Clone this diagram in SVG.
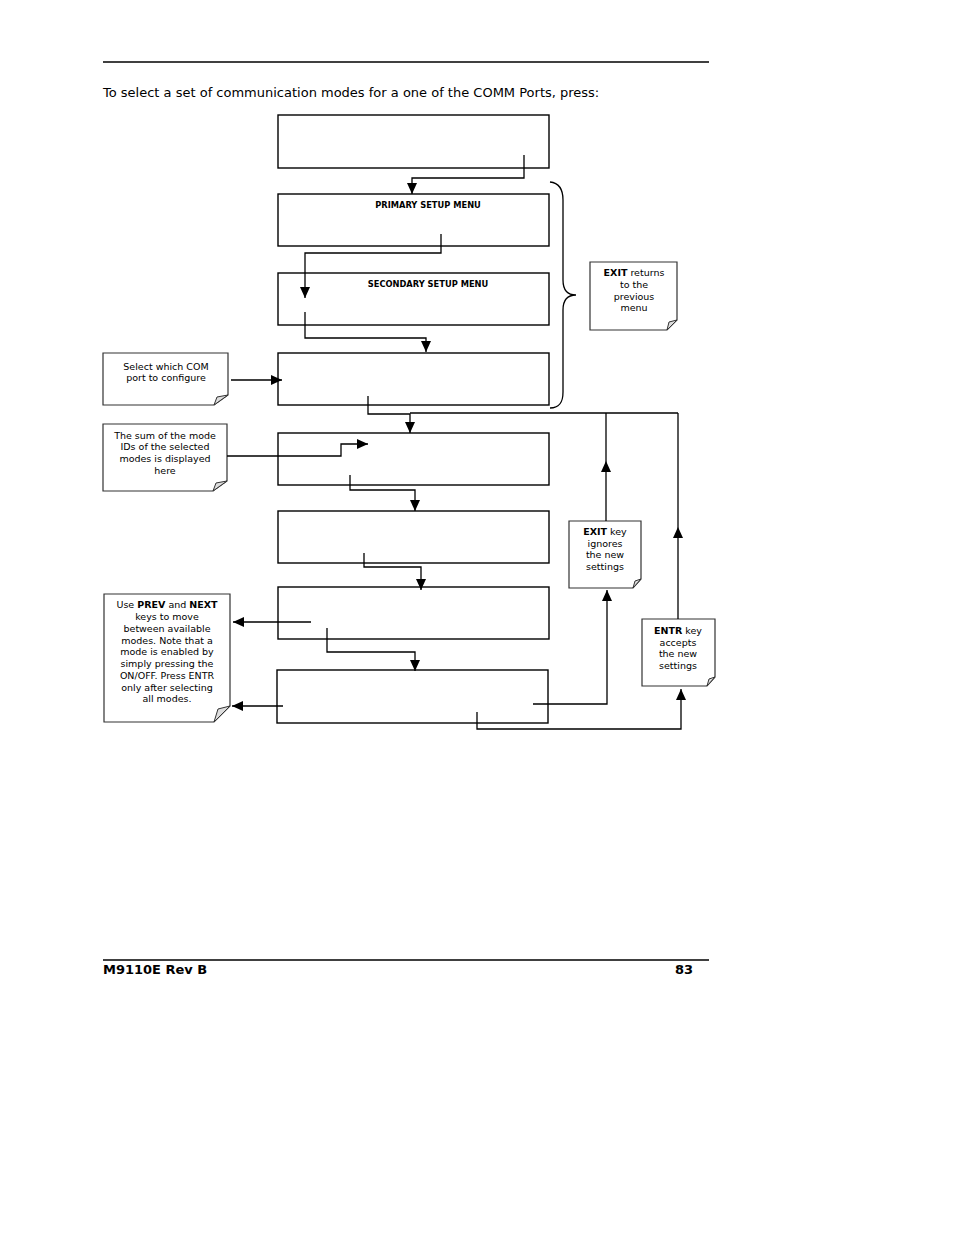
<svg xmlns="http://www.w3.org/2000/svg" width="954" height="1235" viewBox="0 0 954 1235">
<defs>
<marker id="ah" markerUnits="userSpaceOnUse" markerWidth="12" markerHeight="10" refX="11" refY="5" orient="auto">
<path d="M0,0 L11,5 L0,10 Z" fill="#000"/>
</marker>
</defs>
<style>
.box{fill:#fff;stroke:#000;stroke-width:1.4}
.note{fill:#fff;stroke:#333;stroke-width:1.2}
.fold{fill:#ddd;stroke:#333;stroke-width:1}
.c{fill:none;stroke:#000;stroke-width:1.3}
.t{font-family:"DejaVu Sans",Verdana,sans-serif;fill:#000}
.nt{font-family:"DejaVu Sans",Verdana,sans-serif;font-size:9.5px;text-anchor:middle;fill:#000}
.bt{font-family:"DejaVu Sans",Verdana,sans-serif;font-size:8.3px;font-weight:bold;text-anchor:middle;fill:#000}
.hr{stroke:#000;stroke-width:1.3}
</style>
<rect width="954" height="1235" fill="#fff"/>
<line class="hr" x1="103" y1="62" x2="709" y2="62"/>
<text class="t" x="103" y="97" font-size="13">To select a set of communication modes for a one of the COMM Ports, press:</text>

<g id="box1"><rect class="box" x="278" y="115" width="271" height="53"/></g>
<g id="box2"><rect class="box" x="278" y="194" width="271" height="52"/><text class="bt" x="428" y="208">PRIMARY SETUP MENU</text></g>
<g id="box3"><rect class="box" x="278" y="273" width="271" height="52"/><text class="bt" x="428" y="287">SECONDARY SETUP MENU</text></g>
<g id="box4"><rect class="box" x="278" y="353" width="271" height="52"/></g>
<g id="box5"><rect class="box" x="278" y="433" width="271" height="52"/></g>
<g id="box6"><rect class="box" x="278" y="511" width="271" height="52"/></g>
<g id="box7"><rect class="box" x="278" y="587" width="271" height="52"/></g>
<g id="box8"><rect class="box" x="277" y="670" width="271" height="53"/></g>

<g id="brace"><path class="c" d="M550,182 C560,183 563,190 563,200 L563,280 C563,290 567,295 576,295 C567,295 563,300 563,310 L563,392 C563,402 560,408 550,408" stroke="#222"/></g>

<g id="note-exit-returns">
<path class="note" d="M590,262 L677,262 L677,320 L667,330 L590,330 Z"/>
<path class="fold" d="M677,320 L667,330 L669,322 Z"/>
<text class="nt"><tspan x="634" y="276"><tspan font-weight="bold">EXIT</tspan> returns</tspan><tspan x="634" y="288">to the</tspan><tspan x="634" y="300">previous</tspan><tspan x="634" y="311">menu</tspan></text>
</g>
<g id="note-com">
<path class="note" d="M103,353 L228,353 L228,395 L214,405 L103,405 Z"/>
<path class="fold" d="M228,395 L214,405 L217,397 Z"/>
<text class="nt"><tspan x="166" y="370">Select which COM</tspan><tspan x="166" y="381">port to configure</tspan></text>
</g>
<g id="note-sum">
<path class="note" d="M103,424 L227,424 L227,481 L213,491 L103,491 Z"/>
<path class="fold" d="M227,481 L213,491 L216,483 Z"/>
<text class="nt"><tspan x="165" y="439">The sum of the mode</tspan><tspan x="165" y="450">IDs of the selected</tspan><tspan x="165" y="462">modes is displayed</tspan><tspan x="165" y="474">here</tspan></text>
</g>
<g id="note-prev-next">
<path class="note" d="M104,594 L230,594 L230,706 L214,722 L104,722 Z"/>
<path class="fold" d="M230,706 L214,722 L218,709 Z"/>
<text class="nt"><tspan x="167" y="608">Use <tspan font-weight="bold">PREV</tspan> and <tspan font-weight="bold">NEXT</tspan></tspan><tspan x="167" y="620">keys to move</tspan><tspan x="167" y="632">between available</tspan><tspan x="167" y="644">modes. Note that a</tspan><tspan x="167" y="655">mode is enabled by</tspan><tspan x="167" y="667">simply pressing the</tspan><tspan x="167" y="679">ON/OFF. Press ENTR</tspan><tspan x="167" y="691">only after selecting</tspan><tspan x="167" y="702">all modes.</tspan></text>
</g>
<g id="note-exit-key">
<path class="note" d="M569,521 L641,521 L641,579 L633,588 L569,588 Z" stroke="#777"/>
<path class="fold" d="M641,579 L633,588 L635,581 Z"/>
<text class="nt"><tspan x="605" y="535"><tspan font-weight="bold">EXIT</tspan> key</tspan><tspan x="605" y="547">ignores</tspan><tspan x="605" y="558">the new</tspan><tspan x="605" y="570">settings</tspan></text>
</g>
<g id="note-entr-key">
<path class="note" d="M642,619 L715,619 L715,677 L707,686 L642,686 Z" stroke="#777"/>
<path class="fold" d="M715,677 L707,686 L709,679 Z"/>
<text class="nt"><tspan x="678" y="634"><tspan font-weight="bold">ENTR</tspan> key</tspan><tspan x="678" y="646">accepts</tspan><tspan x="678" y="657">the new</tspan><tspan x="678" y="669">settings</tspan></text>
</g>

<g id="connectors">
<path class="c" d="M524,155 L524,178 L412,178 L412,194" marker-end="url(#ah)"/>
<path class="c" d="M441,234 L441,253 L305,253 L305,298" marker-end="url(#ah)"/>
<path class="c" d="M305,312 L305,338 L426,338 L426,352" marker-end="url(#ah)"/>
<path class="c" d="M231,380 L282,380" marker-end="url(#ah)"/>
<path class="c" d="M368,396 L368,414 L410,414 L410,433" marker-end="url(#ah)"/>
<path class="c" d="M410,413 L678,413"/>
<path class="c" d="M227,456 L341,456 L341,444 L368,444" marker-end="url(#ah)"/>
<path class="c" d="M350,475 L350,490 L415,490 L415,511" marker-end="url(#ah)"/>
<path class="c" d="M364,553 L364,567 L421,567 L421,590" marker-end="url(#ah)"/>
<path class="c" d="M311,622 L233,622" marker-end="url(#ah)"/>
<path class="c" d="M327,628 L327,652 L415,652 L415,671" marker-end="url(#ah)"/>
<path class="c" d="M283,706 L232,706" marker-end="url(#ah)"/>
<path class="c" d="M533,704 L607,704 L607,590" marker-end="url(#ah)"/>
<path class="c" d="M477,712 L477,729 L681,729 L681,689" marker-end="url(#ah)"/>
<path class="c" d="M606,521 L606,461" marker-end="url(#ah)"/>
<path class="c" d="M606,461 L606,413"/>
<path class="c" d="M678,619 L678,527" marker-end="url(#ah)"/>
<path class="c" d="M678,527 L678,413"/>
</g>

<line class="hr" x1="103" y1="960" x2="709" y2="960"/>
<text class="t" x="103" y="974" font-size="13" font-weight="bold">M9110E Rev B</text>
<text class="t" x="693" y="974" font-size="13" font-weight="bold" text-anchor="end">83</text>
</svg>
